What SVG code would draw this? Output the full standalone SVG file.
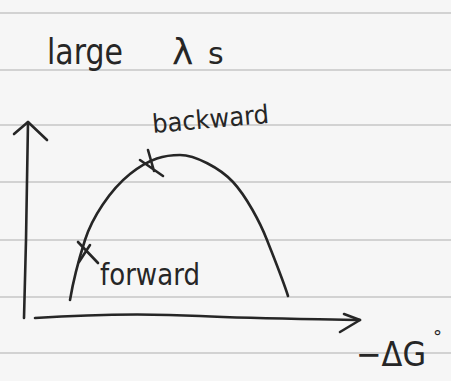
<svg xmlns="http://www.w3.org/2000/svg" width="451" height="381" viewBox="0 0 451 381">
<style>
.rule{stroke:#c6c6c6;stroke-width:1.6;fill:none}
.ink{stroke:#262626;stroke-width:2.6;fill:none;stroke-linecap:round;stroke-linejoin:round}
.txt{font-family:"DejaVu Sans","Liberation Sans",sans-serif;fill:#262626}
</style>
<rect width="451" height="381" fill="#f6f6f6"/>
<g id="paper">
<path class="rule" d="M0,13H451M0,70H451M0,125H451M0,182H451M0,240H451M0,297H451M0,353H451"/>
</g>
<g id="title">
<text class="txt" x="47" y="64" font-size="36" textLength="76" lengthAdjust="spacingAndGlyphs">large</text>
<text class="txt" x="172" y="64" font-size="36">λ<tspan x="208" font-size="30">s</tspan></text>
</g>
<g id="axes">
<path class="ink" d="M24,318 L26,240 L28,122"/>
<path class="ink" d="M14,134 L28,122 L47,140"/>
<path class="ink" d="M35,318 C80,315 140,313 200,316 S320,319 360,320"/>
<path class="ink" d="M344,314 L360,320 L340,332"/>
</g>
<g id="curve">
<path class="ink" d="M70,300 C73,282 78,262 85,240 S110,190 130,174 S165,155 180,155 S220,168 233,182 S260,222 267,240 S283,280 288,296"/>
</g>
<g id="backward">
<path class="ink" d="M140,160 L163,176 M148,150 L154,171"/>
<text class="txt" x="153" y="133" font-size="26" textLength="117" lengthAdjust="spacingAndGlyphs" transform="rotate(-5 153 133)">backward</text>
</g>
<g id="forward">
<path class="ink" d="M78,242 L98,263 M90,245 L79,262"/>
<text class="txt" x="100" y="285" font-size="30" textLength="100" lengthAdjust="spacingAndGlyphs">forward</text>
</g>
<g id="xlabel">
<text class="txt" x="356" y="366" font-size="34"><tspan textLength="70" lengthAdjust="spacingAndGlyphs">−ΔG</tspan><tspan x="433" y="343" font-size="18">°</tspan></text>
</g>
</svg>
